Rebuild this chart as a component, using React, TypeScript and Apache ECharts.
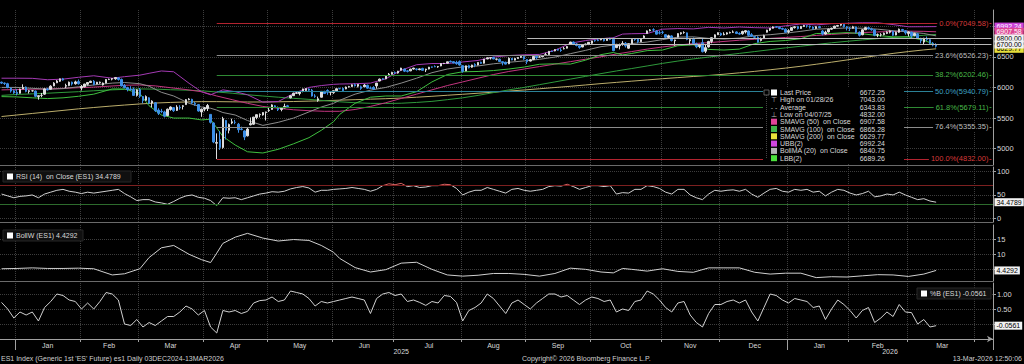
import React, { useEffect, useRef } from 'react';
import * as echarts from 'echarts';

const FONT = '"Liberation Sans", Arial, sans-serif';

// ---------- categories (trading days) ----------
const HOLIDAYS = ['2024-12-25', '2025-01-01', '2025-01-20', '2025-02-17', '2025-04-18', '2025-05-26', '2025-06-19', '2025-07-04', '2025-09-01', '2025-11-27', '2025-12-25', '2026-01-01', '2026-01-19', '2026-02-16', '2026-04-03'];
const FIRST_DAY = [2024, 11, 24];
const SLOT_COUNT = 323;
const MONTHS = ['Jan', 'Feb', 'Mar', 'Apr', 'May', 'Jun', 'Jul', 'Aug', 'Sep', 'Oct', 'Nov', 'Dec'];

function tradingDays(): string[] {
  const out: string[] = [];
  const d = new Date(Date.UTC(FIRST_DAY[0], FIRST_DAY[1], FIRST_DAY[2]));
  while (out.length < SLOT_COUNT) {
    const wd = d.getUTCDay();
    const s = d.toISOString().slice(0, 10);
    if (wd !== 0 && wd !== 6 && HOLIDAYS.indexOf(s) < 0) out.push(s);
    d.setUTCDate(d.getUTCDate() + 1);
  }
  return out;
}

// ---------- price candles [open, close, low, high] ----------
const candles: number[][] = [
  [6085,6070,6055,6095],[6070,6065,6040,6080],[6060,6000,5985,6075],[5990,5940,5915,6000],[5945,5910,5895,5965],
  [5920,5900,5870,5975],[5905,5970,5900,5980],[5975,6000,5985,6050],[6005,5935,5920,6015],[5935,5945,5900,5955],[5945,5945,5930,5960],[5940,5855,5840,5950],[5850,5865,5800,5870],[5870,5870,5840,5910],[5890,5975,5880,5985],[5975,5960,5950,5995],[5970,6020,5965,6035],[6025,6070,6020,6085],[6075,6105,6070,6120],[6100,6140,6090,6145],[6140,6120,6110,6155],[6020,6030,5990,6060],[6030,6085,6020,6095],[6085,6055,6030,6095],[6060,6090,6045,6110],[6095,6060,6045,6130],
  [5990,6015,5950,6040],[6010,6055,6000,6060],[6050,6080,6030,6085],[6080,6100,6075,6110],[6100,6045,6035,6120],[6055,6085,6050,6090],[6075,6085,6060,6095],[6040,6070,6030,6080],[6070,6130,6065,6135],[6130,6130,6120,6145],[6135,6145,6115,6150],[6140,6160,6125,6170],[6155,6130,6110,6165],[6130,6025,6015,6145],[6030,5995,5985,6055],[5995,5965,5935,6010],[5970,5965,5945,6020],[5970,5870,5865,6000],[5870,5960,5850,5970],
  [5965,5855,5830,5990],[5850,5785,5740,5860],[5790,5850,5780,5870],[5830,5745,5730,5840],[5745,5775,5675,5790],[5750,5620,5600,5760],[5630,5580,5550,5660],[5610,5605,5580,5650],[5600,5530,5510,5620],[5540,5645,5535,5655],[5640,5680,5620,5690],[5670,5620,5600,5680],[5625,5680,5615,5710],[5675,5665,5635,5710],[5690,5700,5640,5710],[5720,5800,5715,5810],[5800,5810,5790,5825],[5805,5745,5730,5815],[5740,5725,5700,5765],[5720,5615,5605,5730],[5600,5645,5520,5655],
  [5645,5665,5610,5680],[5655,5705,5615,5730],[5560,5430,5410,5560],[5420,5110,5090,5430],[5090,5100,4832,5250],[5150,5020,4980,5290],[5020,5490,5000,5520],[5460,5300,5150,5470],[5300,5395,5250,5410],[5420,5440,5400,5490],[5430,5430,5400,5470],[5400,5310,5260,5420],[5320,5315,5300,5360],[5290,5190,5140,5300],[5210,5320,5200,5340],[5390,5410,5380,5510],[5400,5515,5390,5520],[5510,5555,5480,5560],[5555,5560,5510,5575],[5550,5590,5540,5595],[5590,5600,5460,5605],
  [5620,5630,5600,5665],[5640,5715,5635,5725],[5700,5680,5665,5710],[5670,5635,5615,5690],[5640,5660,5610,5680],[5665,5690,5660,5735],[5700,5685,5670,5715],[5830,5865,5820,5870],[5865,5905,5860,5915],[5905,5910,5895,5925],[5900,5930,5870,5935],[5935,5975,5920,5980],[5950,5980,5925,5985],[5975,5955,5930,5985],[5955,5860,5850,5975],[5860,5855,5830,5890],[5790,5815,5765,5850],[5840,5935,5835,5940],[5935,5900,5895,5945],[5950,5920,5880,5970],[5920,5920,5870,5935],
  [5915,5945,5895,5950],[5945,5978,5935,5985],[5980,5978,5970,5995],[5985,5945,5930,6000],[5975,6005,5970,6015],[6005,6012,6000,6025],[6015,6042,6005,6050],[6045,6027,6015,6065],[6020,6050,6000,6055],[6010,5983,5960,6030],[6010,6038,6005,6055],[6035,5988,5980,6045],[5990,5987,5975,6015],[6000,5972,5960,6020],[6025,6070,5980,6075],[6105,6135,6100,6145],[6140,6135,6125,6150],[6140,6185,6135,6190],[6190,6215,6185,6235],[6215,6245,6210,6255],
  [6245,6238,6220,6260],[6235,6265,6225,6270],[6280,6315,6275,6320],[6300,6265,6250,6305],[6270,6262,6245,6285],[6270,6298,6265,6305],[6300,6315,6290,6320],[6300,6295,6275,6310],[6290,6302,6280,6310],[6310,6278,6275,6320],[6285,6298,6250,6305],[6300,6330,6295,6335],[6335,6330,6320,6340],[6340,6338,6330,6360],[6335,6340,6320,6350],[6350,6390,6345,6395],[6390,6393,6380,6400],[6395,6418,6390,6420],[6425,6418,6410,6440],[6420,6398,6395,6430],[6405,6388,6370,6435],[6420,6365,6355,6440],
  [6355,6262,6240,6360],[6270,6352,6265,6355],[6355,6320,6310,6370],[6330,6365,6320,6370],[6375,6360,6330,6395],[6365,6408,6360,6410],[6410,6392,6385,6420],[6395,6462,6390,6465],[6465,6482,6460,6490],[6480,6484,6455,6495],[6490,6464,6460,6500],[6460,6462,6440,6470],[6460,6423,6415,6470],[6420,6407,6360,6425],[6410,6380,6375,6420],[6385,6476,6380,6490],[6475,6447,6445,6480],[6445,6473,6440,6475],[6470,6487,6465,6495],[6490,6507,6480,6515],[6505,6465,6450,6510],
  [6455,6420,6380,6460],[6430,6452,6425,6465],[6455,6505,6445,6510],[6510,6485,6460,6535],[6495,6497,6485,6515],[6500,6514,6495,6525],[6525,6534,6515,6565],[6535,6589,6530,6595],[6590,6586,6580,6600],[6595,6617,6590,6625],[6620,6608,6600,6630],[6610,6602,6580,6640],[6630,6633,6620,6660],[6640,6666,6635,6675],[6700,6740,6695,6745],[6740,6703,6690,6750],[6710,6684,6670,6725],[6680,6652,6630,6685],[6660,6690,6655,6695],[6695,6708,6690,6715],[6705,6735,6690,6740],
  [6720,6758,6705,6762],[6765,6762,6745,6780],[6770,6763,6755,6795],[6775,6787,6770,6795],[6790,6761,6750,6800],[6765,6800,6760,6805],[6800,6782,6770,6810],[6785,6600,6590,6815],[6650,6702,6640,6710],[6680,6691,6620,6715],[6700,6718,6680,6755],[6720,6677,6650,6740],[6640,6711,6630,6715],[6715,6782,6710,6785],[6785,6782,6760,6800],[6785,6746,6720,6795],[6745,6785,6740,6795],[6810,6839,6805,6850],[6880,6922,6875,6930],[6925,6938,6915,6950],[6940,6937,6910,6965],[6920,6869,6860,6935],[6890,6887,6865,6925],
  [6900,6898,6870,6925],[6860,6817,6800,6870],[6815,6842,6800,6860],[6840,6766,6750,6850],[6760,6774,6680,6780],[6820,6878,6815,6885],[6875,6892,6860,6900],[6895,6896,6875,6915],[6890,6783,6770,6895],[6760,6780,6690,6795],[6785,6718,6700,6815],[6710,6663,6640,6730],[6670,6688,6640,6710],[6730,6584,6570,6800],[6590,6649,6560,6700],[6660,6750,6650,6760],[6750,6811,6720,6815],[6815,6858,6810,6865],[6860,6893,6855,6900],
  [6880,6855,6840,6895],[6860,6870,6850,6900],[6870,6890,6860,6900],[6890,6895,6880,6910],[6900,6905,6890,6930],[6905,6880,6870,6915],[6880,6870,6860,6900],[6875,6912,6860,6925],[6905,6925,6880,6935],[6920,6850,6830,6930],[6860,6835,6825,6885],[6830,6818,6790,6840],[6820,6738,6730,6835],[6765,6790,6750,6815],[6800,6845,6795,6860],[6900,6935,6895,6940],[6935,6965,6920,6970],[6965,6988,6960,6995],[6990,6985,6975,7000],[6980,6960,6950,6990],[6960,6950,6940,6975],[6950,6900,6895,6965],
  [6910,6925,6880,6950],[6930,6975,6920,6985],[6975,6990,6960,7000],[6990,6960,6945,7005],[6960,6995,6955,7000],[6995,7010,6985,7020],[7005,7000,6975,7015],[7000,6985,6960,7010],[6985,6960,6940,6995],[6960,6990,6950,7000],[6990,6975,6965,7005],[6920,6870,6850,6935],[6870,6900,6860,6925],[6905,6950,6895,6960],[6950,6965,6940,6975],[6970,7000,6960,7005],[7000,7010,6990,7020],[7015,7030,7005,7043],[7030,6990,6975,7035],[6990,6975,6930,7000],
  [6960,6960,6920,6990],[6965,6990,6960,7005],[6985,6900,6880,6995],[6900,6850,6830,6915],[6860,6940,6850,6950],[6940,6975,6935,6990],[6975,6955,6945,6990],[6955,6940,6925,6975],[6940,6850,6835,6950],[6855,6860,6820,6880],[6860,6860,6830,6885],[6860,6885,6850,6895],[6880,6900,6870,6915],[6900,6920,6880,6930],[6915,6850,6840,6925],[6855,6900,6850,6910],[6900,6950,6890,6960],[6945,6930,6910,6955],[6925,6890,6860,6935],
  [6880,6905,6830,6915],[6900,6840,6800,6910],[6845,6880,6835,6890],[6875,6800,6790,6885],[6800,6760,6720,6810],[6740,6800,6700,6810],[6800,6780,6760,6830],[6780,6720,6700,6795],[6720,6690,6670,6740],[6690,6672.25,6650,6720],
];

// ---------- moving averages (sampled on trading-day index) ----------
const maIdx = [0,5,10,15,20,25,30,35,40,45,50,55,60,65,70,75,80,85,90,95,100,105,110,115,120,125,130,135,140,145,150,155,160,165,170,175,180,185,190,195,200,205,210,215,220,225,230,235,240,245,250,255,260,265,270,275,280,285,290,295,300,304];
const sma50 = [5960,5965,5970,5975,5985,5995,6005,6020,6035,6040,6025,5995,5965,5930,5860,5800,5740,5690,5660,5635,5620,5610,5610,5640,5690,5750,5820,5890,5960,6030,6090,6150,6210,6260,6300,6340,6380,6420,6460,6500,6545,6585,6625,6660,6690,6715,6730,6750,6770,6785,6800,6815,6830,6848,6865,6880,6895,6905,6912,6918,6915,6907.58];
const sma100 = [5870,5885,5895,5905,5918,5930,5945,5958,5968,5975,5972,5962,5955,5945,5925,5905,5880,5860,5840,5822,5805,5785,5765,5750,5740,5738,5742,5755,5772,5800,5830,5870,5915,5960,6000,6045,6090,6135,6180,6225,6268,6308,6350,6392,6430,6465,6495,6525,6555,6585,6615,6645,6672,6700,6728,6752,6775,6795,6815,6832,6850,6865.28];
const sma200 = [5525,5550,5575,5600,5625,5650,5672,5693,5712,5730,5745,5755,5762,5768,5768,5765,5762,5762,5765,5770,5776,5783,5792,5800,5808,5816,5826,5840,5855,5872,5888,5905,5922,5940,5958,5978,5998,6018,6040,6062,6082,6102,6122,6142,6160,6178,6195,6215,6238,6262,6288,6315,6345,6378,6412,6448,6485,6520,6555,6585,6612,6629.77];

// ---------- Bollinger (20, 2) ----------
const bbIdx = [0,5,10,15,20,25,30,36,40,45,48,52,56,61,65,68,70,72,76,80,85,90,95,100,104,108,110,115,120,125,130,135,140,145,150,155,160,165,170,175,180,185,190,195,199,202,205,210,215,220,225,230,235,240,245,250,255,260,265,270,275,280,285,290,295,300,304];
const bbMid = [6000,6000,5985,5970,5980,6010,6040,6070,6080,6060,6020,5920,5860,5740,5680,5660,5630,5590,5550,5460,5380,5430,5500,5600,5680,5740,5790,5890,5955,6000,6070,6150,6240,6300,6335,6350,6385,6410,6432,6458,6495,6550,6605,6665,6690,6700,6715,6740,6780,6820,6825,6800,6790,6805,6845,6860,6885,6915,6950,6960,6970,6965,6950,6925,6905,6880,6840.75];
const bbUp = [6150,6150,6148,6125,6135,6165,6190,6150,6175,6200,6230,6268,6255,6067,5930,5880,5920,5960,5930,5880,5760,5770,5900,6000,6030,6050,6055,6060,6070,6140,6280,6370,6390,6390,6415,6440,6495,6520,6532,6538,6605,6720,6765,6795,6810,6870,6876,6880,6950,6960,6955,6980,6970,6985,6975,6970,7005,7035,7020,7040,7046,7055,7054,7025,6989,6990,6992.24];
const bbLow = [5850,5845,5830,5818,5830,5855,5890,5975,5975,5900,5700,5550,5500,5500,5470,5480,5340,5200,5060,4950,4930,4990,5080,5180,5300,5440,5560,5740,5840,5860,5860,5930,6090,6210,6255,6260,6275,6300,6332,6378,6385,6380,6445,6535,6570,6530,6554,6600,6610,6680,6695,6620,6610,6625,6715,6750,6765,6795,6880,6880,6894,6875,6846,6825,6821,6770,6689.26];
const bollW = [5.0,5.1,5.3,5.1,5.1,5.2,5.0,2.9,3.3,5.0,8.8,12.1,12.9,9.9,8.1,7.1,10.3,13.6,15.7,17.0,15.4,14.4,14.9,14.6,12.9,10.6,8.5,5.4,3.9,4.7,6.9,7.2,4.8,2.9,2.5,2.8,3.4,3.4,3.1,2.5,3.4,5.2,4.8,3.9,3.6,5.1,4.8,4.2,5.0,4.1,3.8,5.3,5.3,5.3,3.8,3.2,3.5,3.5,2.0,2.3,2.2,2.6,3.0,2.9,2.4,3.2,4.4292];

// ---------- RSI (14) and %B, every second trading day ----------
const oscStep = 2;
const rsi = [52,48,44,47,48,50,44,52,56,60,62,58,56,53,56,54,56,58,60,62,53,46,38,40,40,35,33,30,36,43,48,50,45,43,38,27,44,43,44,40,44,48,52,54,57,56,58,63,66,68,65,56,60,60,62,63,64,66,64,62,58,62,70,74,72,75,68,70,66,67,70,70,73,72,64,50,56,60,60,66,62,58,54,62,64,60,58,60,62,68,70,69,73,68,62,66,70,70,68,70,52,55,54,62,62,70,68,64,56,52,62,62,50,44,40,52,60,58,60,61,58,62,52,45,54,62,64,58,56,62,60,62,56,58,48,56,62,60,54,50,53,58,46,48,52,50,56,50,45,40,42,37,34.4789];
const pctB = [0.72,0.5,0.2,0.4,0.3,0.4,0.1,0.55,0.75,1.0,0.95,0.8,0.75,0.5,0.7,0.5,0.75,1.05,1.0,0.8,0.0,-0.05,0.15,-0.1,0.05,-0.05,0.1,0.25,0.25,0.4,0.6,0.5,0.3,0.45,-0.1,-0.3,0.45,0.4,0.45,0.35,0.42,0.7,0.78,0.8,0.9,0.75,0.8,1.1,1.05,1.0,0.85,0.6,0.75,0.7,0.75,0.8,0.85,0.9,0.85,0.8,0.35,0.85,1.0,1.05,0.95,1.0,0.75,0.8,0.72,0.62,0.75,0.7,0.95,0.92,0.72,0.1,0.45,0.55,0.7,1.0,0.85,0.6,0.35,0.7,0.8,0.65,0.5,0.7,0.85,1.0,1.0,0.9,0.95,0.8,0.65,0.8,0.9,0.85,0.75,0.8,0.4,0.5,0.45,0.75,0.8,1.1,1.0,0.8,0.55,0.4,0.7,0.75,0.3,0.05,-0.1,0.35,0.65,0.65,0.75,0.8,0.7,0.8,0.4,0.1,0.55,1.0,0.95,0.8,0.7,0.85,0.8,0.75,0.55,0.6,0.15,0.5,0.8,0.65,0.45,0.2,0.45,0.55,0.05,0.2,0.4,0.25,0.65,0.4,0.38,0.0,0.15,-0.1,-0.0561];

// ---------- Fibonacci retracement, drawn from the 04/07/25 low ----------
const fibStartIdx = 70;
const fibPct = ['0.0%', '23.6%', '38.2%', '50.0%', '61.8%', '76.4%', '100.0%'];
const fibValues = [7049.58, 6526.23, 6202.46, 5940.79, 5679.11, 5355.35, 4832.0];
const fibLineColors = ['#b3232f', '#8c8c8c', '#2f8a34', '#2b8196', '#2f8a34', '#8c8c8c', '#b3232f'];
const fibTextColors = ['#d83a3a', '#bdbdbd', '#48b948', '#3ea2c4', '#48b948', '#bdbdbd', '#d83a3a'];

// user horizontal lines
const hLineStartIdx = 171;
const hLineValues = [6800, 6700];

// right-axis study value tags
const tagValues = [6629.77, 6992.24, 6907.58];
const tagColors = ['#e6de3a', '#c944d8', '#dd4694'];
const tagText = ['#000', '#fff', '#fff'];

// legend
const legendNames = ['Last Price', 'High on 01/28/26', 'Average', 'Low on 04/07/25', 'SMAVG (50)  on Close', 'SMAVG (100)  on Close', 'SMAVG (200)  on Close', 'UBB(2)', 'BollMA (20)  on Close', 'LBB(2)'];
const legendValues = ['6672.25', '7043.00', '6343.83', '4832.00', '6907.58', '6865.28', '6629.77', '6992.24', '6840.75', '6689.26'];
const legendMarks = ['#ffffff', '⊤', '- -', '⊥', '#e0449a', '#3fb54a', '#e8e23a', '#d046e0', '#b4b4b4', '#4be03c'];

const lastIdx = 304;
const rsiLast = 34.4789;
const bollWLast = 4.4292;
const pctBLast = -0.0561;

const COL = {
  up: '#dedede', down: '#3d8fe6', sma50: '#c2357f', sma100: '#2f9a3c', sma200: '#bcae6c',
  ubb: '#a43ab4', mid: '#8c8c8c', lbb: '#3fbf3f', grid: '#3d3d3d', axis: '#a0a0a0', text: '#d8d8d8', sep: '#6a6a6a',
};
const TRANSPARENT = 'rgba(0,0,0,0)';

export default function App() {
  const ref = useRef<HTMLDivElement>(null);

  useEffect(() => {
    document.body.style.margin = '0';
    document.body.style.background = '#000';
    if (!ref.current) return;
    const chart = echarts.init(ref.current, undefined, { renderer: 'svg' });
    const dates = tradingDays();
    const last = dates.length - 1;

    const monthStart = new Set<number>();
    const monthMid = new Map<number, string>();
    const yearStart = new Set<number>();
    const yearMid = new Map<number, string>();
    let ms = 0, ys = 0;
    for (let i = 1; i <= dates.length; i++) {
      const endM = i === dates.length || dates[i].slice(0, 7) !== dates[i - 1].slice(0, 7);
      if (endM) {
        if (i < dates.length) monthStart.add(i);
        const len = i - ms;
        if (len >= 10) monthMid.set(ms + Math.floor(len / 2), MONTHS[Number(dates[ms].slice(5, 7)) - 1]);
        ms = i;
      }
      const endY = i === dates.length || dates[i].slice(0, 4) !== dates[i - 1].slice(0, 4);
      if (endY) {
        if (i < dates.length) yearStart.add(i);
        const len = i - ys;
        if (len >= 30) yearMid.set(ys + Math.floor(len / 2), dates[ys].slice(0, 4));
        ys = i;
      }
    }

    const grids = [
      { left: 0, right: 31, top: 10, height: 155 },
      { left: 0, right: 31, top: 167, height: 55 },
      { left: 0, right: 31, top: 225, height: 56 },
      { left: 0, right: 31, top: 283, height: 56 },
    ].map((g) => ({ ...g, containLabel: false, outerBoundsMode: 'none' }));

    const xAx = (gridIndex: number, showLabels: boolean) => ({
      type: 'category', gridIndex, data: dates, boundaryGap: true,
      axisLine: showLabels
        ? { show: true, onZero: false, symbol: ['none', 'arrow'], symbolSize: [5, 6], lineStyle: { color: COL.axis, width: 1 } }
        : { show: true, onZero: false, lineStyle: { color: COL.sep, width: 1 } },
      axisTick: { show: showLabels, interval: (i: number) => monthStart.has(i), length: 3, lineStyle: { color: COL.axis } },
      axisLabel: {
        show: showLabels, interval: (i: number) => monthMid.has(i),
        formatter: (_v: string, i: number) => monthMid.get(i) || '',
        color: COL.text, fontSize: 7, fontFamily: FONT, margin: 3,
      },
      splitLine: { show: true, interval: (i: number) => monthStart.has(i), lineStyle: { color: COL.grid, type: 'dotted', width: 1 } },
    });
    const yearAxis = {
      type: 'category', gridIndex: 3, data: dates, boundaryGap: true, position: 'bottom', offset: 0,
      axisLine: { show: false, onZero: false },
      axisTick: { show: true, interval: (i: number) => yearStart.has(i), length: 11, lineStyle: { color: COL.axis } },
      axisLabel: {
        show: true, interval: (i: number) => yearMid.has(i), formatter: (_v: string, i: number) => yearMid.get(i) || '',
        color: COL.text, fontSize: 7, fontFamily: FONT, margin: 9,
      },
      splitLine: { show: false },
    };

    const yAx = (gridIndex: number, min: number, max: number, ticks: number[], labels: number[], fmt: (v: number) => string) => ({
      type: 'value', gridIndex, position: 'right', min, max,
      axisLine: { show: true, onZero: false, lineStyle: { color: COL.axis } },
      axisTick: { show: true, customValues: ticks, length: 3, lineStyle: { color: COL.axis } },
      axisLabel: { show: true, customValues: labels, formatter: fmt, color: COL.text, fontSize: 7.5, fontFamily: FONT, margin: 4 },
      splitLine: { show: true, lineStyle: { color: COL.grid, type: 'dotted' } },
    });

    const boxLabel = (text: string, bg: string, fg: string) => ({
      show: true, position: 'end', formatter: text, backgroundColor: bg, color: fg, opacity: 1,
      fontSize: 7, fontFamily: FONT, padding: [1, 2, 0, 2], distance: 3,
    });
    const valueBox = (v: number, text: string, bg: string, fg: string, from: number, lineColor?: string) => [
      { coord: [from, v], lineStyle: { color: lineColor || TRANSPARENT, width: 1, type: 'solid' }, label: boxLabel(text, bg, fg) },
      { coord: [last, v] },
    ];

    const pairs = (idx: number[], vals: number[]) => vals.map((v, i) => [idx[i], v]);
    const stepPairs = (vals: number[]) => vals.map((v, i) => [Math.min(i * oscStep, lastIdx), v]);
    const maLine = (name: string, data: number[][], color: string) => ({
      name, type: 'line', xAxisIndex: 0, yAxisIndex: 0, data, showSymbol: false, symbol: 'none',
      lineStyle: { color, width: 1 }, z: 2, silent: true,
    });

    const fibMarks = fibValues.map((v, i) => [
      {
        coord: [fibStartIdx, v], lineStyle: { color: fibLineColors[i], width: 1, type: 'solid' },
        label: {
          show: true, position: 'insideEnd', distance: 2, formatter: `${fibPct[i]}(${v.toFixed(2)})`,
          color: fibTextColors[i], backgroundColor: '#000', padding: [0, 1, 0, 2], fontSize: 7.5, fontFamily: FONT,
        },
      },
      { coord: [last, v] },
    ]);
    const hMarks = hLineValues.map((v) => valueBox(v, v.toFixed(2), '#f2f2f2', '#000', hLineStartIdx, '#b8b8b8'));
    const mainTags = tagValues.map((v, i) => valueBox(v, v.toFixed(2), tagColors[i], tagText[i], lastIdx));

    const series: any[] = [
      {
        name: 'levels', type: 'line', xAxisIndex: 0, yAxisIndex: 0, data: [], clip: false, silent: true, z: 1,
        markLine: { symbol: 'none', silent: true, animation: false, data: [...fibMarks, ...mainTags, ...hMarks] },
      },
      maLine('SMAVG (200)', pairs(maIdx, sma200), COL.sma200),
      maLine('SMAVG (100)', pairs(maIdx, sma100), COL.sma100),
      maLine('SMAVG (50)', pairs(maIdx, sma50), COL.sma50),
      maLine('BollMA', pairs(bbIdx, bbMid), COL.mid),
      maLine('UBB', pairs(bbIdx, bbUp), COL.ubb),
      maLine('LBB', pairs(bbIdx, bbLow), COL.lbb),
      {
        name: 'ES1', type: 'candlestick', xAxisIndex: 0, yAxisIndex: 0, data: candles, barWidth: 2, z: 3,
        itemStyle: { color: COL.up, color0: COL.down, borderColor: COL.up, borderColor0: COL.down, borderWidth: 1 },
      },
      {
        name: 'RSI', type: 'line', xAxisIndex: 1, yAxisIndex: 1, data: stepPairs(rsi), showSymbol: false, symbol: 'none',
        lineStyle: { width: 1 }, clip: false,
        markLine: {
          symbol: 'none', silent: true, animation: false,
          data: [
            { yAxis: 70, lineStyle: { color: '#7c2020', width: 1, type: 'solid' }, label: { show: false } },
            { yAxis: 30, lineStyle: { color: '#2d6b2d', width: 1, type: 'solid' }, label: { show: false } },
            valueBox(rsiLast, rsiLast.toFixed(4), '#f2f2f2', '#000', lastIdx),
          ],
        },
      },
      {
        name: 'BollW', type: 'line', xAxisIndex: 2, yAxisIndex: 2, data: pairs(bbIdx, bollW), showSymbol: false, symbol: 'none',
        lineStyle: { width: 1, color: '#d0d0d0' }, clip: false,
        markLine: { symbol: 'none', silent: true, animation: false, data: [valueBox(bollWLast, bollWLast.toFixed(4), '#f2f2f2', '#000', lastIdx)] },
      },
      {
        name: '%B', type: 'line', xAxisIndex: 3, yAxisIndex: 3, data: stepPairs(pctB), showSymbol: false, symbol: 'none',
        lineStyle: { width: 1, color: '#d0d0d0' }, clip: false,
        markLine: { symbol: 'none', silent: true, animation: false, data: [valueBox(pctBLast, pctBLast.toFixed(4), '#f2f2f2', '#000', lastIdx)] },
      },
    ];
    const rsiSeriesIndex = series.findIndex((s) => s.name === 'RSI');

    const txt = (x: number, y: number, text: string, fill: string, align = 'left', size = 7) => ({
      type: 'text', x, y, silent: true, z: 101,
      style: { text, fill, fontSize: size, fontFamily: FONT, align, verticalAlign: 'middle' },
    });

    const legendRowY = (i: number) => 92.5 + i * 7.3;
    const legendChildren: any[] = [
      { type: 'rect', z: 100, shape: { x: 763, y: 87, width: 141, height: 77 }, style: { fill: '#000' }, silent: true },
      { type: 'rect', z: 101, shape: { x: 764, y: 90, width: 5, height: 5 }, style: { fill: 'none', stroke: '#777', lineWidth: 0.8 }, silent: true },
      { type: 'line', z: 101, shape: { x1: 766.5, y1: 95, x2: 766.5, y2: 158 }, style: { stroke: '#555', lineWidth: 0.8, lineDash: [1, 1] }, silent: true },
    ];
    legendNames.forEach((name, i) => {
      const y = legendRowY(i);
      const m = legendMarks[i];
      if (m.startsWith('#')) {
        legendChildren.push({ type: 'rect', z: 101, shape: { x: 771, y: y - 3, width: 6, height: 6 }, style: { fill: m }, silent: true });
      } else {
        legendChildren.push(txt(774, y, m, '#bbbbbb', 'center', 7));
      }
      legendChildren.push(txt(780, y, name, COL.text));
      legendChildren.push(txt(885, y, legendValues[i], COL.text, 'right'));
    });

    const panelLabel = (x: number, y: number, w: number, text: string) => ({
      type: 'group', silent: true, z: 100,
      children: [
        { type: 'rect', z: 100, shape: { x, y, width: w, height: 11 }, style: { fill: '#101010', stroke: '#262626', lineWidth: 1 } },
        { type: 'rect', z: 101, shape: { x: x + 4, y: y + 2.5, width: 6, height: 6 }, style: { fill: '#ffffff' } },
        txt(x + 13, y + 5.8, text, COL.text),
      ],
    });

    const option: any = {
      animation: false,
      backgroundColor: '#000',
      grid: grids,
      xAxis: [xAx(0, false), xAx(1, false), xAx(2, false), xAx(3, true), yearAxis],
      yAxis: [
        yAx(0, 4734, 7263, [5000, 5500, 6000, 6500, 7000], [5000, 5500, 6000, 6500], (v) => String(v)),
        yAx(1, -8, 110, [0, 50, 100], [0, 50, 100], (v) => String(v)),
        yAx(2, 0.85, 19.83, [5, 10, 15], [10, 15], (v) => String(v)),
        yAx(3, -0.5, 1.367, [0, 0.5, 1], [0.5, 1], (v) => v.toFixed(2)),
      ],
      visualMap: [{
        type: 'piecewise', show: false, seriesIndex: rsiSeriesIndex, dimension: 1,
        pieces: [
          { gt: 70, color: '#d86060' },
          { gte: 30, lte: 70, color: '#cfcfcf' },
          { lt: 30, color: '#47c647' },
        ],
      }],
      series,
      graphic: [
        ...legendChildren,
        panelLabel(3, 171, 128, 'RSI (14)  on Close (ES1) 34.4789'),
        panelLabel(3, 230, 80, 'BollW (ES1) 4.4292'),
        panelLabel(917, 288, 74, '%B (ES1) -0.0561'),
        txt(1, 358.5, "ES1 Index (Generic 1st 'ES' Future) es1 Daily 03DEC2024-13MAR2026", '#cfcfcf'),
        txt(522, 358.5, 'Copyright\u00a9 2026 Bloomberg Finance L.P.', '#cfcfcf'),
        txt(1022, 358.5, '13-Mar-2026 12:50:06', '#cfcfcf', 'right'),
      ],
    };

    chart.setOption(option);
    return () => chart.dispose();
  }, []);

  return <div ref={ref} style={{ position: 'absolute', left: 0, top: 0, width: 1024, height: 364, background: '#000' }} />;
}
